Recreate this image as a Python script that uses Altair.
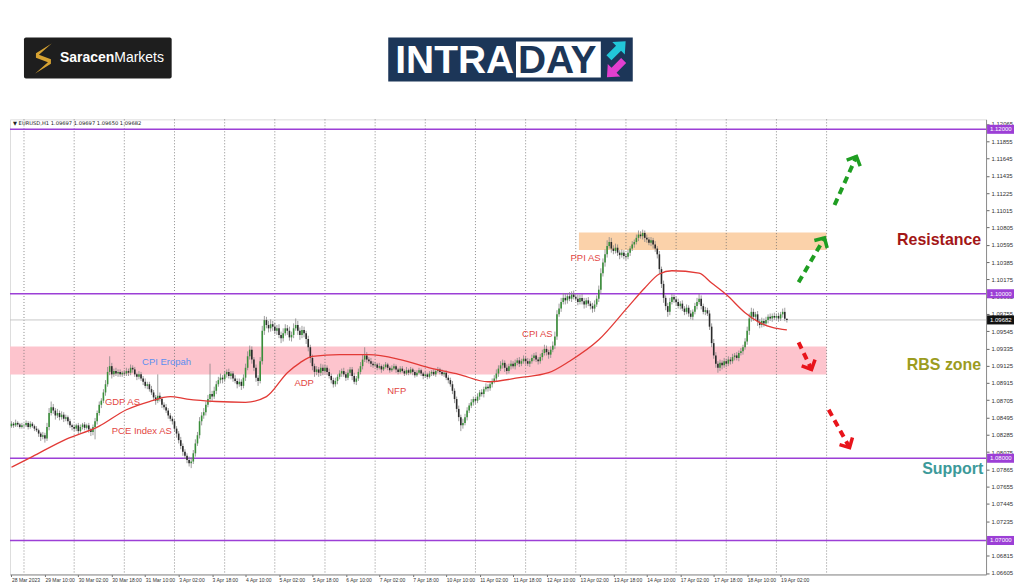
import math
import altair as alt
import pandas as pd

# ---------------- candle data (EURUSD H1) ----------------
first_open = 1.0839

close_28mar = [1.0842, 1.0840, 1.0843, 1.0841, 1.0838, 1.0840]
up_28mar = [3, 2, 4, 2, 2, 3]
dn_28mar = [2, 3, 2, 3, 2, 2]

close_29mar = [1.0840, 1.0843, 1.0838, 1.0842, 1.0839, 1.0836, 1.0834, 1.0830, 1.0826, 1.0828, 1.0824, 1.0838,
               1.0855, 1.0862, 1.0858, 1.0852, 1.0855, 1.0850, 1.0853, 1.0848, 1.0850, 1.0845, 1.0840, 1.0838]
up_29mar = [2, 3, 2, 3, 2, 2, 3, 2, 2, 4, 3, 5, 6, 7, 4, 3, 5, 3, 4, 3, 3, 2, 3, 2]
dn_29mar = [3, 2, 3, 2, 2, 3, 2, 4, 5, 3, 5, 3, 4, 3, 4, 5, 3, 4, 3, 4, 3, 4, 3, 4]

close_30mar = [1.0836, 1.0840, 1.0833, 1.0838, 1.0841, 1.0837, 1.0840, 1.0835, 1.0832, 1.0838, 1.0845, 1.0855,
               1.0865, 1.0870, 1.0880, 1.0890, 1.0905, 1.0912, 1.0902, 1.0906, 1.0903, 1.0905, 1.0902, 1.0904]
up_30mar = [3, 2, 3, 3, 2, 3, 2, 3, 2, 3, 4, 3, 4, 3, 4, 5, 6, 12, 4, 3, 4, 3, 3, 2]
dn_30mar = [3, 3, 4, 2, 3, 3, 2, 4, 5, 4, 15, 4, 3, 4, 3, 4, 3, 4, 5, 3, 3, 4, 3, 3]

close_31mar = [1.0903, 1.0906, 1.0904, 1.0910, 1.0908, 1.0902, 1.0899, 1.0902, 1.0897, 1.0893, 1.0888, 1.0890,
               1.0884, 1.0880, 1.0874, 1.0870, 1.0876, 1.0872, 1.0865, 1.0862, 1.0858, 1.0852, 1.0848, 1.0845]
up_31mar = [3, 4, 3, 4, 3, 3, 2, 4, 3, 3, 4, 3, 3, 4, 3, 3, 26, 4, 3, 3, 4, 3, 3, 3]
dn_31mar = [3, 3, 4, 3, 4, 3, 4, 3, 3, 4, 3, 4, 3, 3, 4, 5, 3, 3, 4, 3, 3, 4, 3, 4]

close_03apr = [1.0836, 1.0830, 1.0822, 1.0815, 1.0808, 1.0803, 1.0798, 1.0794, 1.0796, 1.0806, 1.0818, 1.0828,
               1.0845, 1.0852, 1.0856, 1.0865, 1.0872, 1.0878, 1.0875, 1.0882, 1.0890, 1.0895, 1.0898, 1.0896]
up_03apr = [3, 3, 3, 4, 3, 3, 3, 4, 5, 4, 5, 4, 5, 4, 5, 4, 5, 37, 4, 5, 4, 4, 5, 3]
dn_03apr = [4, 5, 4, 4, 5, 4, 4, 4, 6, 3, 4, 3, 4, 5, 4, 4, 3, 4, 5, 3, 4, 3, 4, 5]

close_04apr = [1.0902, 1.0905, 1.0900, 1.0903, 1.0897, 1.0894, 1.0890, 1.0893, 1.0888, 1.0898, 1.0910, 1.0924,
               1.0932, 1.0920, 1.0910, 1.0898, 1.0894, 1.0918, 1.0955, 1.0968, 1.0962, 1.0958, 1.0963, 1.0960]
up_04apr = [4, 3, 4, 3, 3, 4, 3, 4, 3, 4, 5, 6, 5, 4, 3, 4, 3, 5, 6, 5, 4, 5, 6, 4]
dn_04apr = [3, 4, 3, 4, 4, 3, 5, 3, 5, 3, 4, 3, 4, 5, 4, 5, 6, 3, 4, 5, 4, 5, 4, 5]

close_05apr = [1.0955, 1.0958, 1.0950, 1.0946, 1.0952, 1.0958, 1.0955, 1.0947, 1.0950, 1.0958, 1.0962, 1.0955,
               1.0950, 1.0956, 1.0952, 1.0945, 1.0935, 1.0922, 1.0912, 1.0905, 1.0908, 1.0904, 1.0910, 1.0906]
up_05apr = [5, 4, 5, 4, 6, 5, 4, 5, 4, 6, 8, 5, 4, 5, 4, 3, 4, 3, 4, 3, 4, 3, 5, 4]
dn_05apr = [4, 5, 4, 6, 4, 3, 5, 4, 5, 4, 3, 5, 6, 4, 5, 6, 5, 6, 5, 6, 4, 5, 4, 5]

close_06apr = [1.0910, 1.0905, 1.0900, 1.0895, 1.0890, 1.0894, 1.0899, 1.0903, 1.0906, 1.0902, 1.0898, 1.0904,
               1.0908, 1.0900, 1.0893, 1.0897, 1.0905, 1.0912, 1.0920, 1.0925, 1.0920, 1.0918, 1.0915, 1.0913]
up_06apr = [4, 3, 4, 3, 3, 4, 3, 4, 3, 4, 3, 4, 3, 3, 4, 3, 4, 5, 6, 10, 4, 3, 4, 3]
dn_06apr = [3, 4, 3, 4, 4, 3, 4, 3, 4, 3, 4, 3, 4, 5, 3, 4, 3, 3, 4, 3, 4, 3, 4, 3]

close_07apr = [1.0914, 1.0910, 1.0912, 1.0908, 1.0911, 1.0914, 1.0910, 1.0907, 1.0909, 1.0912, 1.0908, 1.0905,
               1.0909, 1.0906, 1.0903, 1.0907, 1.0904, 1.0908, 1.0905, 1.0901, 1.0904, 1.0907, 1.0903, 1.0900]
up_07apr = [3, 2, 4, 2, 3, 3, 2, 2, 4, 3, 2, 2, 3, 3, 2, 4, 2, 3, 2, 2, 3, 3, 2, 2]
dn_07apr = [2, 3, 2, 4, 2, 2, 3, 3, 2, 2, 4, 3, 2, 2, 3, 2, 3, 2, 4, 3, 2, 2, 3, 4]

close_10apr = [1.0902, 1.0899, 1.0903, 1.0905, 1.0902, 1.0906, 1.0908, 1.0905, 1.0902, 1.0904, 1.0898, 1.0895,
               1.0890, 1.0882, 1.0872, 1.0860, 1.0850, 1.0840, 1.0843, 1.0850, 1.0858, 1.0864, 1.0868, 1.0872]
up_10apr = [3, 2, 3, 2, 3, 2, 3, 2, 3, 2, 3, 3, 3, 4, 3, 3, 4, 3, 5, 4, 4, 3, 4, 3]
dn_10apr = [2, 3, 2, 3, 2, 3, 2, 3, 2, 3, 3, 4, 3, 4, 5, 4, 5, 7, 4, 3, 4, 3, 3, 4]

close_11apr = [1.0870, 1.0875, 1.0880, 1.0878, 1.0884, 1.0887, 1.0885, 1.0890, 1.0894, 1.0897, 1.0903, 1.0909,
               1.0913, 1.0916, 1.0910, 1.0906, 1.0912, 1.0915, 1.0912, 1.0916, 1.0919, 1.0915, 1.0918, 1.0921]
up_11apr = [3, 4, 3, 4, 3, 4, 3, 4, 3, 4, 5, 4, 5, 4, 3, 4, 3, 4, 3, 4, 3, 4, 3, 4]
dn_11apr = [4, 3, 4, 3, 4, 3, 4, 3, 4, 3, 3, 4, 3, 4, 5, 4, 3, 4, 3, 4, 3, 4, 3, 3]

close_12apr = [1.0918, 1.0915, 1.0918, 1.0922, 1.0925, 1.0920, 1.0918, 1.0923, 1.0928, 1.0933, 1.0929, 1.0926,
               1.0932, 1.0937, 1.0948, 1.0975, 1.0982, 1.0990, 1.0995, 1.0992, 1.0997, 1.0994, 1.0999, 1.0996]
up_12apr = [3, 4, 3, 4, 3, 4, 3, 4, 4, 5, 4, 3, 4, 5, 6, 5, 6, 5, 6, 5, 4, 5, 4, 5]
dn_12apr = [4, 3, 4, 3, 4, 3, 4, 3, 4, 3, 4, 5, 4, 3, 4, 4, 3, 4, 3, 5, 4, 3, 4, 3]

close_13apr = [1.0994, 1.0990, 1.0995, 1.0991, 1.0987, 1.0992, 1.0988, 1.0985, 1.0982, 1.0987, 1.0994, 1.1005,
               1.1025, 1.1038, 1.1048, 1.1058, 1.1063, 1.1055, 1.1052, 1.1056, 1.1050, 1.1047, 1.1050, 1.1046]
up_13apr = [4, 5, 4, 5, 4, 3, 4, 3, 4, 5, 4, 5, 6, 5, 6, 7, 6, 5, 4, 5, 4, 3, 4, 3]
dn_13apr = [3, 4, 3, 4, 5, 4, 3, 4, 5, 4, 3, 4, 5, 4, 5, 4, 3, 5, 4, 3, 4, 5, 3, 4]

close_14apr = [1.1045, 1.1050, 1.1055, 1.1060, 1.1063, 1.1068, 1.1072, 1.1070, 1.1074, 1.1068, 1.1066, 1.1062,
               1.1065, 1.1060, 1.1055, 1.1048, 1.1030, 1.1012, 1.0995, 1.0985, 1.0978, 1.0990, 1.0996, 1.0993]
up_14apr = [3, 4, 3, 4, 3, 4, 5, 4, 4, 3, 4, 3, 4, 3, 4, 3, 4, 3, 4, 3, 4, 5, 4, 3]
dn_14apr = [4, 3, 4, 3, 4, 3, 4, 3, 4, 5, 4, 3, 4, 5, 4, 5, 6, 5, 6, 5, 6, 4, 3, 4]

close_17apr = [1.0990, 1.0985, 1.0988, 1.0982, 1.0978, 1.0983, 1.0976, 1.0972, 1.0978, 1.0985, 1.0990, 1.0994,
               1.0985, 1.0978, 1.0980, 1.0976, 1.0960, 1.0940, 1.0925, 1.0915, 1.0910, 1.0916, 1.0913, 1.0918]
up_17apr = [3, 4, 3, 4, 3, 4, 3, 4, 3, 4, 5, 6, 4, 3, 4, 3, 4, 4, 5, 4, 3, 4, 3, 4]
dn_17apr = [4, 3, 4, 3, 4, 3, 4, 3, 4, 3, 4, 3, 4, 3, 4, 3, 4, 5, 4, 5, 6, 4, 5, 3]

close_18apr = [1.0915, 1.0920, 1.0918, 1.0923, 1.0925, 1.0922, 1.0928, 1.0930, 1.0935, 1.0942, 1.0955, 1.0970,
               1.0978, 1.0972, 1.0975, 1.0966, 1.0962, 1.0967, 1.0964, 1.0968, 1.0972, 1.0970, 1.0973, 1.0971]
up_18apr = [3, 4, 3, 4, 3, 4, 3, 4, 3, 4, 5, 6, 5, 4, 3, 4, 3, 4, 3, 4, 3, 4, 3, 4]
dn_18apr = [4, 3, 4, 3, 4, 3, 4, 3, 4, 3, 4, 5, 4, 5, 4, 5, 4, 3, 4, 3, 4, 3, 4, 3]

close_19apr = [1.0973, 1.0970, 1.0975, 1.0978, 1.09697, 1.09682]
up_19apr = [3, 4, 3, 4, 5, 0]
dn_19apr = [3, 4, 3, 4, 3, 3.2]

# moving average (red line), read at these bar indices
ma_idx = [0, 10, 26, 42, 55, 66, 76, 84, 98, 112, 122, 132, 138, 144, 157, 171, 186, 200, 214, 228, 243,
          257, 267, 281, 294, 303, 310, 316, 329, 335, 342, 351, 358, 364, 371]
ma_val = [1.0789, 1.0802, 1.0823, 1.0839, 1.0859, 1.0869, 1.0875, 1.0872, 1.0869, 1.0868, 1.0875, 1.0904,
          1.0916, 1.0924, 1.0926, 1.0926, 1.0920, 1.0910, 1.0902, 1.0893, 1.0898, 1.0904, 1.0918, 1.0944,
          1.0981, 1.1007, 1.1024, 1.1028, 1.1025, 1.1013, 1.0999, 1.0977, 1.0965, 1.0959, 1.0956]

# horizontal levels
level_prices = [1.12, 1.10, 1.08, 1.07]
current_price = 1.09682

# zones
zone_x1 = [-0.7, 271.5]
zone_x2 = [390, 390]
zone_lo = [1.09018, 1.10533]
zone_hi = [1.09358, 1.10745]
zone_col = ["#fdc4cd", "#fbd2aa"]

# day separators (bar index of each midnight)
day_starts = [6, 30, 54, 78, 102, 126, 150, 174, 198, 222, 246, 270, 294, 318, 342, 366, 390]

# time axis labels (every 16 bars)
x_tick_idx = [0, 16, 32, 48, 64, 80, 96, 112, 128, 144, 160, 176, 192, 208, 224, 240, 256, 272, 288, 304,
              320, 336, 352, 368]
x_labels = ["28 Mar 2023", "29 Mar 10:00", "30 Mar 02:00", "30 Mar 18:00", "31 Mar 10:00", "3 Apr 02:00",
            "3 Apr 18:00", "4 Apr 10:00", "5 Apr 02:00", "5 Apr 18:00", "6 Apr 10:00", "7 Apr 02:00",
            "7 Apr 18:00", "10 Apr 10:00", "11 Apr 02:00", "11 Apr 18:00", "12 Apr 10:00", "13 Apr 02:00",
            "13 Apr 18:00", "14 Apr 10:00", "17 Apr 02:00", "17 Apr 18:00", "18 Apr 10:00", "19 Apr 02:00"]

# price axis labels
y_ticks = [1.06605, 1.06815, 1.07025, 1.07235, 1.07445, 1.07655, 1.07865, 1.08075, 1.08285, 1.08495,
           1.08705, 1.08915, 1.09125, 1.09335, 1.09545, 1.09755, 1.09965, 1.10175, 1.10385, 1.10595,
           1.10805, 1.11015, 1.11225, 1.11435, 1.11645, 1.11855, 1.12065]

# event annotations
event_text = ["CPI Eropah", "GDP AS", "PCE Index AS", "ADP", "NFP", "CPI AS", "PPI AS"]
event_idx = [62.5, 44.7, 48.0, 135.4, 179.8, 244.3, 267.5]
event_price = [1.09167, 1.08690, 1.08331, 1.08909, 1.08812, 1.09515, 1.10433]
event_col = ["#5b8ef0", "#e2463f", "#e2463f", "#e2463f", "#e2463f", "#e2463f", "#e2463f"]

zone_text = ["Resistance", "RBS zone", "Support"]
zone_text_price = [1.10655, 1.09139, 1.07867]
zone_text_col = ["#a31616", "#9c9c1e", "#3c9a9a"]
zone_text_idx = [464, 464, 465]

# dashed arrows
arrow_tail_i = [376.6, 393.8, 376.6, 391.0]
arrow_tail_p = [1.1014, 1.1108, 1.0941, 1.0859]
arrow_head_i = [389.0, 404.3, 382.8, 401.0]
arrow_head_p = [1.1068, 1.1167, 1.0908, 1.0813]
arrow_col = ["#1f9e22", "#1f9e22", "#e8141b", "#e8141b"]

header_text = "\u25bc EURUSD,H1  1.09697 1.09697 1.09650 1.09682"

# ---------------- build tables ----------------
closes = (close_28mar + close_29mar + close_30mar + close_31mar + close_03apr + close_04apr + close_05apr
          + close_06apr + close_07apr + close_10apr + close_11apr + close_12apr + close_13apr + close_14apr
          + close_17apr + close_18apr + close_19apr)
ups = (up_28mar + up_29mar + up_30mar + up_31mar + up_03apr + up_04apr + up_05apr + up_06apr + up_07apr
       + up_10apr + up_11apr + up_12apr + up_13apr + up_14apr + up_17apr + up_18apr + up_19apr)
dns = (dn_28mar + dn_29mar + dn_30mar + dn_31mar + dn_03apr + dn_04apr + dn_05apr + dn_06apr + dn_07apr
       + dn_10apr + dn_11apr + dn_12apr + dn_13apr + dn_14apr + dn_17apr + dn_18apr + dn_19apr)
assert len(closes) == len(ups) == len(dns) == 372, (len(closes), len(ups), len(dns))

opens = [first_open] + closes[:-1]
rows = []
for i, (o, c, u, d) in enumerate(zip(opens, closes, ups, dns)):
    rows.append(dict(i=i, o=o, c=c, h=max(o, c) + u * 0.0001, l=min(o, c) - d * 0.0001,
                     col="#3a8f3a" if c > o else "#2a2a2a"))
candles = pd.DataFrame(rows)

W, H = 978, 456
XMIN, XMAX = -0.7, 466.3
YMIN, YMAX = 1.06587, 1.12121
PX_X = W / (XMAX - XMIN)
PX_Y = H / (YMAX - YMIN)

xs = alt.Scale(domain=[XMIN, XMAX], nice=False, zero=False)
ys = alt.Scale(domain=[YMIN, YMAX], nice=False, zero=False)
label_expr = "[" + ",".join("'%s'" % t for t in x_labels) + "][round(datum.value/16)]"
xaxis = alt.Axis(values=x_tick_idx, labelExpr=label_expr, labelAlign="left", labelFontSize=5,
                 labelFont="Liberation Sans", labelColor="#333333", tickSize=2, tickColor="#666666",
                 domainColor="#8c8c8c", grid=False, title=None, labelPadding=1.5, labelOverlap=False,
                 labelFlush=False, labelBound=False)
yaxis = alt.Axis(orient="right", values=y_ticks, format=".5f", labelFontSize=6, labelFont="Liberation Sans",
                 labelColor="#333333", tickSize=3, tickColor="#666666", domainColor="#8c8c8c", grid=False,
                 title=None, labelPadding=2, labelOverlap=False, labelFlush=False, labelBound=False)


def X(f="i"):
    return alt.X(f"{f}:Q", scale=xs, axis=xaxis)


def Y(f):
    return alt.Y(f"{f}:Q", scale=ys, axis=yaxis)


one = pd.DataFrame({"a": [0]})

zones_df = pd.DataFrame(dict(x1=zone_x1, x2=zone_x2, lo=zone_lo, hi=zone_hi, col=zone_col))
zones = alt.Chart(zones_df).mark_rect().encode(
    x=X("x1"), x2="x2:Q", y=Y("lo"), y2="hi:Q", color=alt.Color("col:N", scale=None))

grid = alt.Chart(pd.DataFrame({"d": day_starts})).mark_rule(
    color="#6f6f6f", strokeWidth=0.8, strokeDash=[1, 2]).encode(x=X("d"), y=alt.value(0), y2=alt.value(H))

cur = alt.Chart(pd.DataFrame({"p": [current_price]})).mark_rule(color="#c8c8c8", strokeWidth=1).encode(y=Y("p"))
levels = alt.Chart(pd.DataFrame({"p": level_prices})).mark_rule(color="#9c3fd6", strokeWidth=1.5).encode(y=Y("p"))

wicks = alt.Chart(candles).mark_rule(color="#858585", strokeWidth=0.8).encode(x=X(), y=Y("l"), y2="h:Q")
bodies = alt.Chart(candles).mark_rule(strokeWidth=1.6, strokeCap="butt").encode(
    x=X(), y=Y("o"), y2="c:Q", color=alt.Color("col:N", scale=None))

ma = alt.Chart(pd.DataFrame({"i": ma_idx, "v": ma_val})).mark_line(
    color="#e23a36", strokeWidth=1.3, interpolate="monotone").encode(x=X("i"), y=Y("v"))

events = alt.Chart(pd.DataFrame(dict(t=event_text, i=event_idx, p=event_price, col=event_col))).mark_text(
    align="left", baseline="middle", fontSize=9.5, font="Liberation Sans").encode(
    x=X("i"), y=Y("p"), text="t:N", color=alt.Color("col:N", scale=None))

zlabels = alt.Chart(pd.DataFrame(dict(t=zone_text, i=zone_text_idx, p=zone_text_price, col=zone_text_col))).mark_text(
    align="right", baseline="middle", fontSize=16, fontWeight="bold", font="Liberation Sans").encode(
    x=X("i"), y=Y("p"), text="t:N", color=alt.Color("col:N", scale=None))

shaft_rows, head_rows = [], []
for k in range(len(arrow_col)):
    shaft_rows.append(dict(id=k, o=0, i=arrow_tail_i[k], p=arrow_tail_p[k], col=arrow_col[k]))
    shaft_rows.append(dict(id=k, o=1, i=arrow_head_i[k], p=arrow_head_p[k], col=arrow_col[k]))
    dx = (arrow_head_i[k] - arrow_tail_i[k]) * PX_X
    dy = -(arrow_head_p[k] - arrow_tail_p[k]) * PX_Y
    ang = math.degrees(math.atan2(dx, -dy)) % 360
    head_rows.append(dict(i=arrow_head_i[k], p=arrow_head_p[k], ang=ang, col=arrow_col[k]))
shafts = alt.Chart(pd.DataFrame(shaft_rows)).mark_line(strokeWidth=4, strokeDash=[7, 5], strokeCap="butt").encode(
    x=X("i"), y=Y("p"), detail="id:N", order="o:Q", color=alt.Color("col:N", scale=None))
heads = alt.Chart(pd.DataFrame(head_rows)).mark_point(
    shape="M -1 1 L 0 0 L 1 1", filled=False, strokeWidth=3.5, size=220, opacity=1).encode(
    x=X("i"), y=Y("p"), angle=alt.Angle("ang:Q", scale=None), color=alt.Color("col:N", scale=None))

# right-hand price boxes
box_p = level_prices + [current_price]
box_col = ["#9c3fd6"] * 4 + ["#111111"]
box_df = pd.DataFrame(dict(p=box_p, col=box_col, lbl=["%.5f" % v for v in box_p]))
box_df["top"] = box_df["p"] + 0.00055
box_df["bot"] = box_df["p"] - 0.00055
pboxes = alt.Chart(box_df).mark_rect().encode(
    x=alt.value(W + 1), x2=alt.value(W + 28), y=Y("top"), y2="bot:Q", color=alt.Color("col:N", scale=None))
ptext = alt.Chart(box_df).mark_text(align="left", baseline="middle", fontSize=6, font="Liberation Sans",
                                    color="white").encode(x=alt.value(W + 4), y=Y("p"), text="lbl:N")

header = alt.Chart(one).mark_text(align="left", baseline="middle", fontSize=5.2, font="DejaVu Sans",
                                  color="#222222").encode(x=alt.value(3), y=alt.value(3.5), text=alt.value(header_text))

# logos (above the plot)
sar_box = alt.Chart(one).mark_rect(color="#1e1e1e", cornerRadius=2).encode(
    x=alt.value(14), x2=alt.value(162), y=alt.value(-82), y2=alt.value(-41))
sar_icon = alt.Chart(one).mark_point(
    shape="M 0.55 -1 L -0.5 -0.35 L -0.5 -0.05 L 0.3 0.25 L -0.55 1 L 0.5 0.35 L 0.5 0.05 L -0.3 -0.25 Z",
    filled=True, size=900, color="#d6a232", opacity=1).encode(x=alt.value(33.5), y=alt.value(-61))
sar_t1 = alt.Chart(one).mark_text(align="left", baseline="middle", fontSize=14, fontWeight="bold",
                                  font="Liberation Sans", color="white").encode(
    x=alt.value(50), y=alt.value(-61), text=alt.value("Saracen"))
sar_t2 = alt.Chart(one).mark_text(align="left", baseline="middle", fontSize=14, font="Liberation Sans",
                                  color="white").encode(x=alt.value(104.5), y=alt.value(-61), text=alt.value("Markets"))

intra_box = alt.Chart(one).mark_rect(color="#1c3658").encode(
    x=alt.value(379), x2=alt.value(624), y=alt.value(-82), y2=alt.value(-38))
day_box = alt.Chart(one).mark_rect(color="white").encode(
    x=alt.value(507), x2=alt.value(592), y=alt.value(-78), y2=alt.value(-42))
intra_t = alt.Chart(one).mark_text(align="left", baseline="alphabetic", fontSize=39, fontWeight="bold",
                                   font="Liberation Sans", color="white").encode(
    x=alt.value(386), y=alt.value(-46), text=alt.value("INTRA"))
day_t = alt.Chart(one).mark_text(align="left", baseline="alphabetic", fontSize=39, fontWeight="bold",
                                 font="Liberation Sans", color="#1c3658").encode(
    x=alt.value(509), y=alt.value(-46), text=alt.value("DAY"))
arrow_path = "M 0 -1 L 0.75 -0.15 L 0.3 -0.15 L 0.3 1 L -0.3 1 L -0.3 -0.15 L -0.75 -0.15 Z"
logo_arrows = alt.Chart(pd.DataFrame(dict(x=[608.5, 606.5], y=[-70, -50.5], ang=[45, 225],
                                          col=["#22c7d9", "#e23fcf"]))).mark_point(
    shape=arrow_path, filled=True, size=560, opacity=1).encode(
    x=alt.X("x:Q", scale=None), y=alt.Y("y:Q", scale=None), angle=alt.Angle("ang:Q", scale=None),
    color=alt.Color("col:N", scale=None))

chart = alt.layer(
    zones, grid, cur, levels, wicks, bodies, ma, events, zlabels, shafts, heads, pboxes, ptext, header,
    sar_box, sar_icon, sar_t1, sar_t2, intra_box, day_box, intra_t, day_t, logo_arrows
).resolve_scale(x="shared", y="shared").properties(
    width=W, height=H, autosize=alt.AutoSizeParams(type="none"),
    padding={"left": 2, "top": 111, "right": 30, "bottom": 12},
    background="white"
).configure_view(stroke="#8c8c8c", strokeWidth=1).configure(font="Liberation Sans")

chart.save("out.html", embed_options={"renderer": "svg", "actions": False})
